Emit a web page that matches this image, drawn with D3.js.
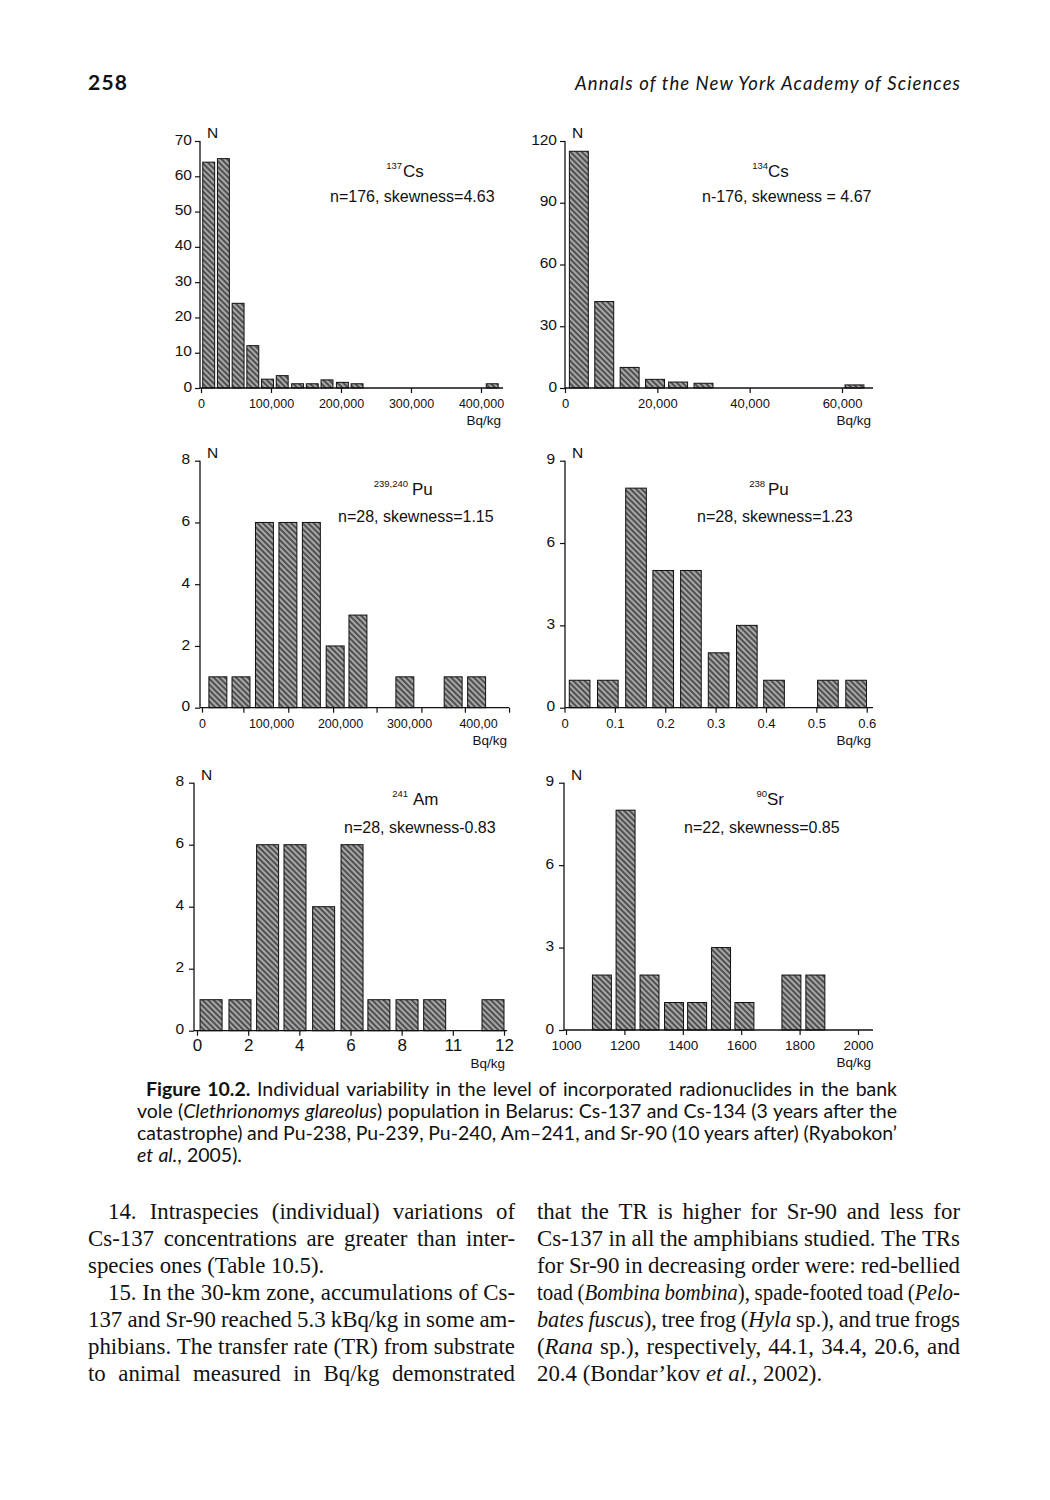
<!DOCTYPE html>
<html><head><meta charset="utf-8">
<script src="https://cdn.jsdelivr.net/npm/d3@7/dist/d3.min.js"></script>
<style>body{margin:0;background:#fff} svg{display:block}</style>
</head><body>
<svg id="page" width="1050" height="1500"></svg>
<script>
// ---------- DATA ----------
// 137Cs (bin centres in Bq/kg, counts)
const cs137Bins   = [11000, 32000, 53000, 74000, 95000, 116000, 138000, 159000, 180000, 202000, 223000, 416000];
const cs137Counts = [64, 65, 24, 12, 2.5, 3.5, 1.2, 1.2, 2.3, 1.6, 1.2, 1.2];
const cs137YTicks = [0, 10, 20, 30, 40, 50, 60, 70];
const cs137XTicks = [0, 100000, 200000, 300000, 400000];
const cs137XLabels = ["0", "100,000", "200,000", "300,000", "400,000"];

// 134Cs
const cs134Bins   = [3000, 8500, 14000, 19500, 24500, 30000, 62700];
const cs134Counts = [115, 42, 10, 4.2, 2.9, 2.3, 1.5];
const cs134YTicks = [0, 30, 60, 90, 120];
const cs134XTicks = [0, 20000, 40000, 60000];
const cs134XLabels = ["0", "20,000", "40,000", "60,000"];

// 239,240Pu
const pu239Bins   = [23000, 56500, 90500, 124500, 158500, 193000, 226000, 294000, 364000, 398000];
const pu239Counts = [1, 1, 6, 6, 6, 2, 3, 1, 1, 1];
const pu239YTicks = [0, 2, 4, 6, 8];
const pu239XTickMarks = [0, 60000, 125000, 190000, 253000, 318000, 381000, 445000];
const pu239XTicks = [0, 100000, 200000, 300000, 400000];
const pu239XLabels = ["0", "100,000", "200,000", "300,000", "400,00"];

// 238Pu
const pu238Bins   = [0.030, 0.086, 0.142, 0.196, 0.251, 0.306, 0.362, 0.416, 0.523, 0.579];
const pu238Counts = [1, 1, 8, 5, 5, 2, 3, 1, 1, 1];
const pu238YTicks = [0, 3, 6, 9];
const pu238XTicks = [0, 0.1, 0.2, 0.3, 0.4, 0.5, 0.6];
const pu238XLabels = ["0", "0.1", "0.2", "0.3", "0.4", "0.5", "0.6"];

// 241Am
const am241Bins   = [0.55, 1.68, 2.76, 3.83, 4.95, 6.06, 7.11, 8.21, 9.29, 11.57];
const am241Counts = [1, 1, 6, 6, 4, 6, 1, 1, 1, 1];
const am241YTicks = [0, 2, 4, 6, 8];
const am241XTicks = [0, 2, 4, 6, 8, 10, 12];
const am241XLabels = ["0", "2", "4", "6", "8", "11", "12"];

// 90Sr
const sr90Bins   = [1123, 1204, 1286, 1370, 1449, 1531, 1611, 1772, 1854];
const sr90Counts = [2, 8, 2, 1, 1, 3, 1, 2, 2];
const sr90YTicks = [0, 3, 6, 9];
const sr90XTicks = [1000, 1200, 1400, 1600, 1800, 2000];
const sr90XLabels = ["1000", "1200", "1400", "1600", "1800", "2000"];

const isotopeSups  = ["137", "134", "239,240", "238", "241", "90"];
const isotopeNames = ["Cs", "Cs", "Pu", "Pu", "Am", "Sr"];
const statTexts = ["n=176, skewness=4.63", "n-176, skewness = 4.67", "n=28, skewness=1.15",
                   "n=28, skewness=1.23", "n=28, skewness-0.83", "n=22, skewness=0.85"];

// ---------- LAYOUT ----------
const SANS = "'Liberation Sans', Arial, sans-serif";
const svg = d3.select('#page');
svg.append('rect').attr('width', 1050).attr('height', 1500).attr('fill', '#fff');
const defs = svg.append('defs');
const pat = defs.append('pattern').attr('id', 'hatch').attr('patternUnits', 'userSpaceOnUse')
  .attr('width', 4).attr('height', 4).attr('patternTransform', 'rotate(-45)');
pat.append('rect').attr('width', 4).attr('height', 4).attr('fill', '#505050');
pat.append('line').attr('x1', 2).attr('y1', 0).attr('x2', 2).attr('y2', 4)
  .attr('stroke', '#eeeeee').attr('stroke-width', 1.1);

const panels = [
  {bins: cs137Bins, counts: cs137Counts, binW: 17000, xDomain: [0, 400000], xRange: [201, 481],
   yDomain: [0, 70], yRange: [388, 141], axisX: 200, axisEnd: 503,
   yTicks: cs137YTicks, xMarks: cs137XTicks, xTicks: cs137XTicks, xLabels: cs137XLabels, xFont: 12.5, yPad: 3,
   supEnd: 402, symX: 403, symY: 177, statX: 330, statY: 202},
  {bins: cs134Bins, counts: cs134Counts, binW: 4100, xDomain: [0, 60000], xRange: [565, 842],
   yDomain: [0, 120], yRange: [388, 141], axisX: 565, axisEnd: 873,
   yTicks: cs134YTicks, xMarks: cs134XTicks, xTicks: cs134XTicks, xLabels: cs134XLabels, xFont: 13, yPad: 3,
   supEnd: 768, symX: 768, symY: 177, statX: 702, statY: 202},
  {bins: pu239Bins, counts: pu239Counts, binW: 26000, xDomain: [0, 400000], xRange: [202, 478],
   yDomain: [0, 8], yRange: [707.7, 460.7], axisX: 200, axisEnd: 509,
   yTicks: pu239YTicks, xMarks: pu239XTickMarks, xTicks: pu239XTicks, xLabels: pu239XLabels, xFont: 12.5, yPad: 5,
   supEnd: 408, symX: 412, symY: 495, statX: 338, statY: 522},
  {bins: pu238Bins, counts: pu238Counts, binW: 0.041, xDomain: [0, 0.6], xRange: [564.5, 866.7],
   yDomain: [0, 9], yRange: [707.7, 460.7], axisX: 565, axisEnd: 873,
   yTicks: pu238YTicks, xMarks: pu238XTicks, xTicks: pu238XTicks, xLabels: pu238XLabels, xFont: 13, yPad: 5,
   supEnd: 765, symX: 768, symY: 495, statX: 697, statY: 522},
  {bins: am241Bins, counts: am241Counts, binW: 0.86, xDomain: [0, 12], xRange: [197, 504],
   yDomain: [0, 8], yRange: [1030.7, 782.7], axisX: 194, axisEnd: 507,
   yTicks: am241YTicks, xMarks: am241XTicks, xTicks: am241XTicks, xLabels: am241XLabels, xFont: 17, yPad: 5,
   supEnd: 408, symX: 413, symY: 805, statX: 344, statY: 833},
  {bins: sr90Bins, counts: sr90Counts, binW: 65, xDomain: [1000, 2000], xRange: [566, 858],
   yDomain: [0, 9], yRange: [1030, 782.7], axisX: 564, axisEnd: 873,
   yTicks: sr90YTicks, xMarks: sr90XTicks, xTicks: sr90XTicks, xLabels: sr90XLabels, xFont: 13.5, yPad: 5,
   supEnd: 767, symX: 767, symY: 805, statX: 684, statY: 833}
];

panels.forEach((p, idx) => {
  const x = d3.scaleLinear().domain(p.xDomain).range(p.xRange);
  const y = d3.scaleLinear().domain(p.yDomain).range(p.yRange);
  const g = svg.append('g');
  const y0 = y(0), yTop = y(p.yDomain[1]);

  g.selectAll('rect.bar').data(d3.zip(p.bins, p.counts)).join('rect')
    .attr('class', 'bar')
    .attr('x', d => x(d[0] - p.binW / 2))
    .attr('width', d => x(d[0] + p.binW / 2) - x(d[0] - p.binW / 2))
    .attr('y', d => y(d[1]))
    .attr('height', d => y0 - y(d[1]))
    .attr('fill', 'url(#hatch)').attr('stroke', '#111').attr('stroke-width', 1);

  g.append('g').attr('transform', `translate(${p.axisX},0)`)
    .call(d3.axisLeft(y).tickValues(p.yTicks).tickSize(5).tickPadding(p.yPad))
    .attr('font-family', SANS).attr('font-size', 15.5)
    .call(a => a.select('.domain').remove())
    .call(a => a.selectAll('line').attr('stroke', '#111').attr('stroke-width', 1.2))
    .call(a => a.selectAll('text').attr('dy', '0.2em').attr('fill', '#111'));

  g.append('g').attr('transform', `translate(0,${y0})`)
    .call(d3.axisBottom(x).tickValues(p.xMarks).tickSize(5).tickFormat(''))
    .call(a => a.select('.domain').remove())
    .call(a => a.selectAll('line').attr('stroke', '#111').attr('stroke-width', 1.2));
  g.append('g').attr('transform', `translate(0,${y0})`)
    .call(d3.axisBottom(x).tickValues(p.xTicks).tickSize(0)
      .tickFormat(d => p.xLabels[p.xTicks.indexOf(d)]))
    .attr('font-family', SANS).attr('font-size', p.xFont)
    .call(a => a.select('.domain').remove())
    .call(a => a.selectAll('text').attr('y', 20).attr('dy', 0).attr('fill', '#111'));

  g.append('line').attr('x1', p.axisX).attr('x2', p.axisX).attr('y1', y0).attr('y2', yTop)
    .attr('stroke', '#111').attr('stroke-width', 1.3);
  g.append('line').attr('x1', p.axisX).attr('x2', p.axisEnd).attr('y1', y0).attr('y2', y0)
    .attr('stroke', '#111').attr('stroke-width', 1.3);

  g.append('text').attr('x', p.axisX + 7).attr('y', yTop - 3).text('N')
    .attr('font-family', SANS).attr('font-size', 15.5).attr('fill', '#111');
  g.append('text').attr('x', p.axisEnd - 2).attr('y', y0 + 37).attr('text-anchor', 'end').text('Bq/kg')
    .attr('font-family', SANS).attr('font-size', 13.5).attr('fill', '#111');
  g.append('text').attr('x', p.supEnd).attr('y', p.symY - 8).attr('text-anchor', 'end')
    .text(isotopeSups[idx]).attr('font-family', SANS).attr('font-size', 9.5).attr('fill', '#111');
  g.append('text').attr('x', p.symX).attr('y', p.symY).text(isotopeNames[idx])
    .attr('font-family', SANS).attr('font-size', 17).attr('fill', '#111');
  g.append('text').attr('x', p.statX).attr('y', p.statY).text(statTexts[idx])
    .attr('font-family', SANS).attr('font-size', 16).attr('fill', '#111');
});

// ---------- TEXT ----------
function parseTokens(str) {
  let it = false, bd = false;
  return str.split(' ').map(tok => {
    const pieces = []; let cur = null;
    for (const ch of tok) {
      if (ch === '_') { it = !it; cur = null; continue; }
      if (ch === '*') { bd = !bd; cur = null; continue; }
      if (!cur) { cur = {t: '', it, bd}; pieces.push(cur); }
      cur.t += ch;
    }
    return pieces;
  });
}
function makeWords(parent, str, y, o) {
  return parseTokens(str).map(pieces => {
    const t = parent.append('text').attr('y', y).attr('font-family', o.family)
      .attr('font-size', o.size).attr('fill', '#111');
    pieces.forEach(pc => t.append('tspan').text(pc.t)
      .attr('font-style', pc.it ? 'italic' : 'normal')
      .attr('font-weight', pc.bd ? 'bold' : 'normal'));
    return t;
  });
}
function richLine(str, x0, x1, y, o) {
  const g = svg.append('g');
  const els = makeWords(g, str, y, o);
  const widths = els.map(e => e.node().getComputedTextLength());
  const total = d3.sum(widths);
  const minGap = o.size * 0.2;
  let gap = (o.justify && els.length > 1) ? (x1 - x0 - total) / (els.length - 1) : o.size * o.space;
  let s = 1;
  if (o.justify && gap < minGap) {           // too long: condense the line a little
    gap = minGap;
    s = (x1 - x0 - minGap * (els.length - 1)) / total;
  }
  let xx = 0;
  els.forEach((e, i) => { e.attr('x', xx); xx += widths[i] + gap / s; });
  g.attr('transform', `translate(${x0},0) scale(${s},1)`);
}
function fitSize(lines, o) {
  const tmp = svg.append('g');
  const ratios = lines.filter(l => l.justify).map(l => {
    const els = makeWords(tmp, l.s, -100, o);
    const w = d3.sum(els, e => e.node().getComputedTextLength()) + (els.length - 1) * o.size * o.space;
    return (l.x1 - l.x0) / w;
  });
  tmp.remove();
  return o.size * d3.median(ratios);
}

// header
svg.append('text').attr('x', 88).attr('y', 90).text('258')
  .attr('font-family', "Lato, 'DejaVu Sans', sans-serif").attr('font-weight', 'bold')
  .attr('font-size', 21).attr('textLength', 39).attr('fill', '#111');
svg.append('text').attr('x', 575).attr('y', 90).text('Annals of the New York Academy of Sciences')
  .attr('font-family', "Lato, 'DejaVu Sans', sans-serif").attr('font-style', 'italic')
  .attr('font-size', 18.5).attr('textLength', 385).attr('fill', '#111');

// caption
const capLines = [
  {s: "*Figure 10.2.* Individual variability in the level of incorporated radionuclides in the bank", x0: 146, x1: 897, y: 1096, justify: true},
  {s: "vole (_Clethrionomys glareolus_) population in Belarus: Cs-137 and Cs-134 (3 years after the", x0: 137, x1: 897, y: 1118, justify: true},
  {s: "catastrophe) and Pu-238, Pu-239, Pu-240, Am–241, and Sr-90 (10 years after) (Ryabokon’", x0: 137, x1: 897, y: 1140, justify: true},
  {s: "_et al._, 2005).", x0: 137, x1: 897, y: 1162, justify: false}
];
const capO = {family: "Lato, 'DejaVu Sans', sans-serif", size: 16.5, space: 0.27};
capO.size = fitSize(capLines, capO);
capLines.forEach(l => richLine(l.s, l.x0, l.x1, l.y, Object.assign({}, capO, {justify: l.justify})));

// body text
const bodyLines = [
  {s: "14. Intraspecies (individual) variations of", x0: 108, x1: 515, y: 1219, justify: true},
  {s: "Cs-137 concentrations are greater than inter-", x0: 88, x1: 515, y: 1246, justify: true},
  {s: "species ones (Table 10.5).", x0: 88, x1: 515, y: 1273, justify: false},
  {s: "15. In the 30-km zone, accumulations of Cs-", x0: 108, x1: 515, y: 1300, justify: true},
  {s: "137 and Sr-90 reached 5.3 kBq/kg in some am-", x0: 88, x1: 515, y: 1327, justify: true},
  {s: "phibians. The transfer rate (TR) from substrate", x0: 88, x1: 515, y: 1354, justify: true},
  {s: "to animal measured in Bq/kg demonstrated", x0: 88, x1: 515, y: 1381, justify: true},
  {s: "that the TR is higher for Sr-90 and less for", x0: 537, x1: 960, y: 1219, justify: true},
  {s: "Cs-137 in all the amphibians studied. The TRs", x0: 537, x1: 960, y: 1246, justify: true},
  {s: "for Sr-90 in decreasing order were: red-bellied", x0: 537, x1: 960, y: 1273, justify: true},
  {s: "toad (_Bombina bombina_), spade-footed toad (_Pelo-_", x0: 537, x1: 960, y: 1300, justify: true},
  {s: "_bates fuscus_), tree frog (_Hyla_ sp.), and true frogs", x0: 537, x1: 960, y: 1327, justify: true},
  {s: "(_Rana_ sp.), respectively, 44.1, 34.4, 20.6, and", x0: 537, x1: 960, y: 1354, justify: true},
  {s: "20.4 (Bondar’kov _et al._, 2002).", x0: 537, x1: 960, y: 1381, justify: false}
];
const bodyO = {family: "'Liberation Serif', 'Times New Roman', serif", size: 20.5, space: 0.25};
bodyO.size = Math.min(23, fitSize(bodyLines, bodyO));
bodyLines.forEach(l => richLine(l.s, l.x0, l.x1, l.y, Object.assign({}, bodyO, {justify: l.justify})));
</script>
</body></html>
